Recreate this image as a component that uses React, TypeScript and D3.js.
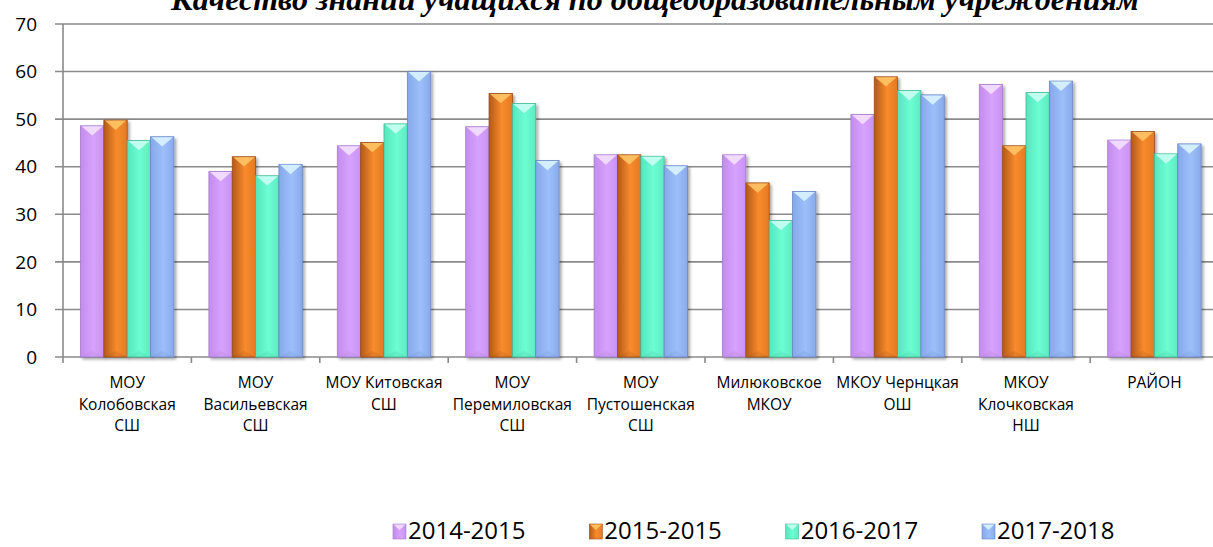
import React from "react"
import * as d3 from "d3"

// chart data
const categoryLines = [
    ["МОУ", "Колобовская", "СШ"],
    ["МОУ", "Васильевская", "СШ"],
    ["МОУ Китовская", "СШ"],
    ["МОУ", "Перемиловская", "СШ"],
    ["МОУ", "Пустошенская", "СШ"],
    ["Милюковское", "МКОУ"],
    ["МКОУ Чернцкая", "ОШ"],
    ["МКОУ", "Клочковская", "НШ"],
    ["РАЙОН"],
]
const categories = categoryLines.map((l) => l.join(" "))
const seriesNames = ["2014-2015", "2015-2015", "2016-2017", "2017-2018"]
const values2014 = [48.6, 39.0, 44.4, 48.4, 42.5, 42.5, 51.0, 57.3, 45.6]
const values2015 = [49.8, 42.1, 45.1, 55.4, 42.5, 36.6, 58.9, 44.4, 47.4]
const values2016 = [45.5, 38.1, 49.0, 53.3, 42.2, 28.7, 56.0, 55.6, 42.7]
const values2017 = [46.3, 40.5, 60.0, 41.3, 40.2, 34.8, 55.1, 58.0, 44.8]
const yTicks = [0, 10, 20, 30, 40, 50, 60, 70]

const seriesValues = [values2014, values2015, values2016, values2017]

// fill stops (left, middle, right), top bevel colour, edge colour
const palette = [
    { stops: ["#c38cee", "#d7a2fd", "#c892f3"], top: "#f4e0ff", edge: "#a47cc8" },
    { stops: ["#b3591a", "#f98b2c", "#e37a24"], top: "#ffc466", edge: "#9a4e17" },
    { stops: ["#56e6bb", "#6cfdd3", "#5eebc2"], top: "#cafff2", edge: "#47b994" },
    { stops: ["#86a8ea", "#9cbffa", "#8aaaea"], top: "#d9f4ff", edge: "#6a88c4" },
]

const W = 1213
const H = 547
const plotLeft = 63
const bandW = 128.4
const plotTop = 24
const plotBottom = 357

const sans = "'Open Sans', 'DejaVu Sans', sans-serif"

function Bar({ x, y, w, h, s }) {
    const p = palette[s]
    const tri = Math.min(w * 0.42, h)
    return (
        <g filter="url(#shadow)">
            <rect x={x} y={y} width={w} height={h} fill={`url(#grad${s})`} stroke={p.edge} strokeWidth={0.8} />
            <polygon
                points={`${x + 1},${y + 0.5} ${x + w - 1},${y + 0.5} ${x + w / 2},${y + tri}`}
                fill={p.top}
                opacity={0.9}
            />
            <polygon
                points={`${x + 1},${y + h - 0.5} ${x + w - 1},${y + h - 0.5} ${x + w / 2},${y + h - Math.min(tri * 0.6, h)}`}
                fill={p.edge}
                opacity={0.18}
            />
        </g>
    )
}

export default function App() {
    const x0 = d3
        .scaleBand()
        .domain(categories)
        .range([plotLeft, plotLeft + bandW * categories.length])
        .paddingInner(0)
        .paddingOuter(0)
    const x1 = d3
        .scaleBand()
        .domain(seriesNames)
        .range([0, x0.bandwidth()])
        .paddingInner(0)
        .paddingOuter(0.75)
    const y = d3.scaleLinear().domain([0, 70]).range([plotBottom, plotTop])

    const legendX = d3.scalePoint().domain(seriesNames).range([393, 982])

    return (
        <svg width={W} height={H} style={{ display: "block", position: "absolute", left: 0, top: 0 }}>
            <defs>
                {palette.map((p, i) => (
                    <linearGradient key={i} id={`grad${i}`} x1="0" y1="0" x2="1" y2="0">
                        <stop offset="0" stopColor={p.stops[0]} />
                        <stop offset="0.55" stopColor={p.stops[1]} />
                        <stop offset="1" stopColor={p.stops[2]} />
                    </linearGradient>
                ))}
                <filter id="shadow" x="-20%" y="-5%" width="150%" height="115%">
                    <feDropShadow dx="2" dy="2" stdDeviation="1.5" floodColor="#000" floodOpacity="0.35" />
                </filter>
            </defs>
            <rect width={W} height={H} fill="#fff" />

            <text
                x={655}
                y={10}
                textAnchor="middle"
                fontFamily="'Liberation Serif', 'Times New Roman', serif"
                fontWeight="bold"
                fontStyle="italic"
                fontSize={32}
                fill="#000"
            >
                Качество знаний учащихся по общеобразовательным учреждениям
            </text>

            {/* gridlines and y axis */}
            {yTicks.map((t) => (
                <g key={t}>
                    <line x1={55} x2={W} y1={y(t)} y2={y(t)} stroke="#8a8a8a" strokeWidth={1.6} />
                    <text x={37} y={y(t)} dy="0.35em" textAnchor="end" fontFamily={sans} fontSize={19} fill="#000">
                        {t}
                    </text>
                </g>
            ))}
            <line x1={plotLeft} x2={plotLeft} y1={plotTop} y2={plotBottom + 6} stroke="#8a8a8a" strokeWidth={1.6} />
            {categories.map((c) => (
                <line
                    key={c}
                    x1={x0(c) + x0.bandwidth()}
                    x2={x0(c) + x0.bandwidth()}
                    y1={plotBottom}
                    y2={plotBottom + 6}
                    stroke="#8a8a8a"
                    strokeWidth={1.6}
                />
            ))}

            {/* bars */}
            {categories.map((c, ci) => (
                <g key={c}>
                    {seriesNames.map((s, si) => {
                        const v = seriesValues[si][ci]
                        return (
                            <Bar
                                key={s}
                                x={x0(c) + x1(s)}
                                y={y(v)}
                                w={x1.bandwidth()}
                                h={y(0) - y(v)}
                                s={si}
                            />
                        )
                    })}
                </g>
            ))}

            {/* category labels */}
            {categoryLines.map((lines, ci) => (
                <text
                    key={ci}
                    x={x0(categories[ci]) + x0.bandwidth() / 2}
                    y={383}
                    textAnchor="middle"
                    fontFamily={sans}
                    fontSize={15.5}
                    fill="#000"
                >
                    {lines.map((l, li) => (
                        <tspan key={li} x={x0(categories[ci]) + x0.bandwidth() / 2} y={383 + li * 21.5} dy="0.35em">
                            {l}
                        </tspan>
                    ))}
                </text>
            ))}

            {/* legend */}
            {seriesNames.map((s, si) => (
                <g key={s} transform={`translate(${legendX(s)},531)`}>
                    <rect x={0} y={-7} width={13} height={15} fill={`url(#grad${si})`} stroke={palette[si].edge} strokeWidth={0.6} />
                    <polygon points="0.5,-6.5 12.5,-6.5 6.5,-1" fill={palette[si].top} opacity={0.9} />
                    <text x={15} y={0} dy="0.35em" fontFamily={sans} fontSize={24} fill="#000">
                        {s}
                    </text>
                </g>
            ))}
        </svg>
    )
}
